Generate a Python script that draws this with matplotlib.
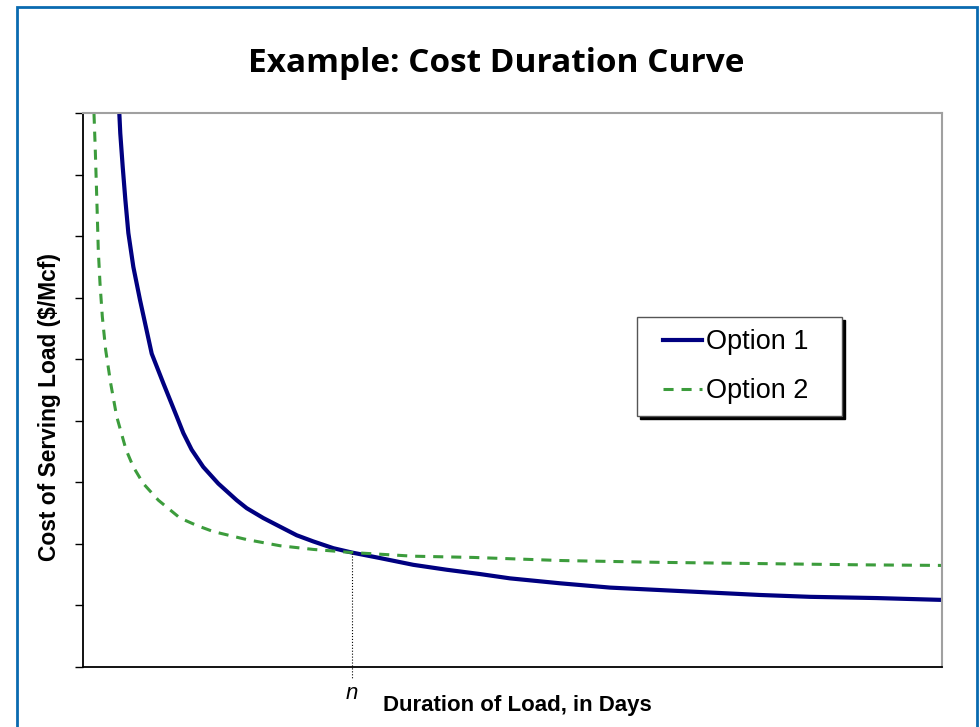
import matplotlib
matplotlib.use("Agg")
import matplotlib.pyplot as plt
from matplotlib.patches import Rectangle
from matplotlib.legend_handler import HandlerLine2D

# values (x: share of the duration axis, y: tick units)
opt1_x = [4.23, 4.34, 4.62, 4.93, 5.28, 5.86, 6.64, 8.0, 9.35,
          10.91, 11.68, 12.65, 14.0, 15.75, 17.89, 19.06, 20.99, 22.93,
          24.88, 26.81, 29.14, 31.28, 34.57, 38.45, 42.34, 46.22, 49.71, 55.53,
          61.35, 67.17, 72.99, 78.81, 84.63, 92.39, 100.0]
opt1_y = [8.99, 8.67, 8.13, 7.59, 7.05, 6.5, 5.96, 5.09, 4.61,
          4.07, 3.8, 3.53, 3.25, 2.98, 2.71, 2.58, 2.42, 2.28,
          2.14, 2.04, 1.93, 1.86, 1.77, 1.66, 1.58, 1.51, 1.44, 1.36,
          1.29, 1.25, 1.21, 1.17, 1.14, 1.12, 1.09]

opt2_x = [1.28, 1.43, 1.55, 1.67, 1.78, 1.98, 2.25, 2.64, 3.22, 3.92, 5.01,
          5.86, 7.02, 8.77, 11.29, 13.24, 15.17, 19.06, 22.93, 26.81, 31.28,
          38.45, 45.43, 55.53, 67.17, 78.81, 90.45, 100.0]
opt2_y = [8.99, 8.4, 7.86, 7.31, 6.77, 6.23, 5.69, 5.15, 4.61, 4.07, 3.53,
          3.25, 2.98, 2.71, 2.42, 2.3, 2.2, 2.07, 1.97, 1.91, 1.86,
          1.8, 1.78, 1.73, 1.7, 1.68, 1.66, 1.65]

n_x = 31.28
n_y = 1.86
y_ticks = list(range(10))
labels = ["Option 1", "Option 2"]

fig = plt.figure(figsize=(9.8, 7.27), dpi=100)
ax = fig.add_axes([83 / 980, 1 - 667 / 727, 859 / 980, 554 / 727])

ax.plot(opt1_x, opt1_y, color="#000080", lw=3.0, label=labels[0],
        solid_joinstyle="round")
ax.plot(opt2_x, opt2_y, color="#3c9c3c", lw=2.2, label=labels[1],
        linestyle=(0, (3.3, 2.6)))

# crossing marker
ax.plot([n_x, n_x], [n_y, -0.18], color="black", lw=0.8, linestyle=":",
        clip_on=False)
ax.text(n_x, -0.047, "n", transform=ax.get_xaxis_transform(), ha="center",
        va="center", fontsize=16, style="italic", family="Liberation Sans")

ax.set_xlim(0, 100)
ax.set_ylim(0, 9)
ax.set_xticks([])
ax.set_yticks(y_ticks)
ax.set_yticklabels([])
ax.tick_params(axis="y", direction="out", length=6, width=1, color="black")

for side in ["top", "right"]:
    ax.spines[side].set_color("#a0a0a0")
    ax.spines[side].set_linewidth(1.5)
for side in ["left", "bottom"]:
    ax.spines[side].set_color("black")
    ax.spines[side].set_linewidth(1.3)

ax.set_xlabel("Duration of Load, in Days", fontsize=16, fontweight="bold",
              family="Liberation Sans")
ax.xaxis.set_label_coords(0.506, -0.05)
ax.set_ylabel("Cost of Serving Load ($/Mcf)", fontsize=16.4, fontweight="bold",
              family="Liberation Sans")
ax.yaxis.set_label_coords(-0.026, 0.47)

fs = 19.5
leg = ax.legend(loc="upper left", bbox_to_anchor=(0.645, 0.453, 0.2387, 0.179),
                mode="expand", borderaxespad=0, fancybox=False,
                handlelength=1.95, handletextpad=0.15, labelspacing=0.85,
                borderpad=0.45,
                handler_map={ln: HandlerLine2D(xpad=0.5) for ln in ax.get_lines()[:2]},
                prop={"family": "Liberation Sans", "size": fs},
                shadow={"color": "black", "alpha": 1.0})
leg.get_frame().set_edgecolor("#555555")
leg.get_frame().set_linewidth(1.0)

fig.text(496 / 980, 1 - 63 / 727, "Example: Cost Duration Curve", ha="center",
         va="center", fontsize=24, fontweight="bold", family="Open Sans")

# blue slide frame
fig.patches.append(Rectangle((17 / 980, -0.1), 960 / 980, 1.1 - 7 / 727,
                             transform=fig.transFigure, fill=False,
                             edgecolor="#0a6ab0", lw=2, clip_on=False))

fig.savefig("out.png", dpi=100)
